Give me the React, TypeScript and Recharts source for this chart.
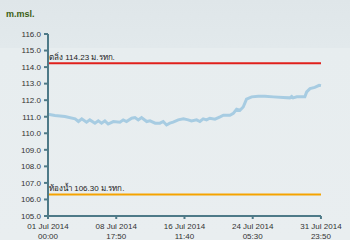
import { CartesianGrid, Line, LineChart, ReferenceLine, XAxis, YAxis } from 'recharts';

// hours since 01 Jul 2014 00:00
const hours = [
  0, 19, 46, 74, 83, 92, 105, 114, 128, 137, 146, 155, 164, 178, 196, 205, 214, 228, 237, 246,
  255, 269, 278, 292, 305, 314, 323, 332, 341, 355, 369, 382, 391, 405, 414, 423, 432, 441, 455, 469,
  478, 496, 505, 514, 523, 532, 541, 555, 573, 591, 614, 641, 659, 664, 668, 678, 700, 705, 714, 727,
  739, 744,
];
const levels = [
  111.15, 111.08, 111.01, 110.87, 110.71, 110.87, 110.67, 110.81, 110.61, 110.75, 110.61, 110.75, 110.56, 110.71, 110.67, 110.81, 110.71, 110.91, 110.95, 110.81,
  110.95, 110.71, 110.75, 110.61, 110.61, 110.71, 110.5, 110.61, 110.67, 110.81, 110.87, 110.81, 110.75, 110.81, 110.71, 110.87, 110.81, 110.91, 110.85, 110.99,
  111.09, 111.09, 111.2, 111.45, 111.39, 111.59, 112.06, 112.2, 112.24, 112.24, 112.2, 112.16, 112.14, 112.22, 112.14, 112.2, 112.2, 112.5, 112.7, 112.77,
  112.9, 112.88,
];

const bankLevel = 114.23;
const bedLevel = 106.3;
const bankLabel = 'ตลิ่ง 114.23 ม.รทก.';
const bedLabel = 'ท้องน้ำ 106.30 ม.รทก.';

const yTicks = [105, 106, 107, 108, 109, 110, 111, 112, 113, 114, 115, 116];
const xTicks = [0, 185.96, 371.92, 557.87, 743.83];
const xTickDates = ['01 Jul 2014', '08 Jul 2014', '16 Jul 2014', '24 Jul 2014', '31 Jul 2014'];
const xTickTimes = ['00:00', '17:50', '11:40', '05:30', '23:50'];

const data = hours.map((h, i) => ({ h, level: levels[i] }));

const FONT = '"Liberation Sans", Arial, sans-serif';
const AXIS = '#4e7a88';

function XTick({ x, y, payload }: any) {
  const i = xTicks.indexOf(payload.value);
  return (
    <text x={x} y={y} textAnchor="middle" fill="#333" fontSize={8} fontFamily={FONT}>
      <tspan x={x} dy={8}>{xTickDates[i]}</tspan>
      <tspan x={x} dy={9.5}>{xTickTimes[i]}</tspan>
    </text>
  );
}

function RefLabel({ viewBox, text }: any) {
  return (
    <text x={viewBox.x + 1} y={viewBox.y - 3} fill="#222" fontSize={8} fontFamily={FONT}>
      {text}
    </text>
  );
}

export default function App() {
  return (
    <div
      style={{
        position: 'absolute', left: 0, top: 0, width: 350, height: 240,
        background: 'linear-gradient(#dfe6e9 0px, #e2e9ec 48px, #e7edef 48px, #e9eef0 240px)',
      }}
    >
      <div style={{ position: 'absolute', left: 6, top: 9, fontFamily: FONT, fontSize: 9, fontWeight: 'bold', color: '#3b5e13' }}>
        m.msl.
      </div>
      <LineChart width={350} height={240} data={data} margin={{ top: 34, right: 29, left: 0, bottom: 0 }}>
        <CartesianGrid stroke="none" />
        <XAxis
          dataKey="h" type="number" domain={[0, 743.83]} ticks={xTicks} height={24}
          axisLine={{ stroke: AXIS, strokeWidth: 2 }} tickLine={{ stroke: AXIS, strokeWidth: 2 }}
          tickSize={3} tickMargin={2} tick={<XTick />} interval={0}
        />
        <YAxis
          type="number" domain={[105, 116]} ticks={yTicks} width={48} interval={0}
          axisLine={{ stroke: AXIS, strokeWidth: 2 }} tickLine={{ stroke: AXIS, strokeWidth: 2 }}
          tickSize={4} tickMargin={3} tickFormatter={(v: number) => v.toFixed(1)}
          tick={{ fill: '#333', fontSize: 8, fontFamily: FONT }}
        />
        <ReferenceLine y={bankLevel} stroke="#e0201c" strokeWidth={2} label={<RefLabel text={bankLabel} />} />
        <ReferenceLine y={bedLevel} stroke="#f5a300" strokeWidth={2} label={<RefLabel text={bedLabel} />} />
        <Line type="linear" dataKey="level" stroke="#a7cce2" strokeWidth={3} dot={false} isAnimationActive={false} />
      </LineChart>
    </div>
  );
}
